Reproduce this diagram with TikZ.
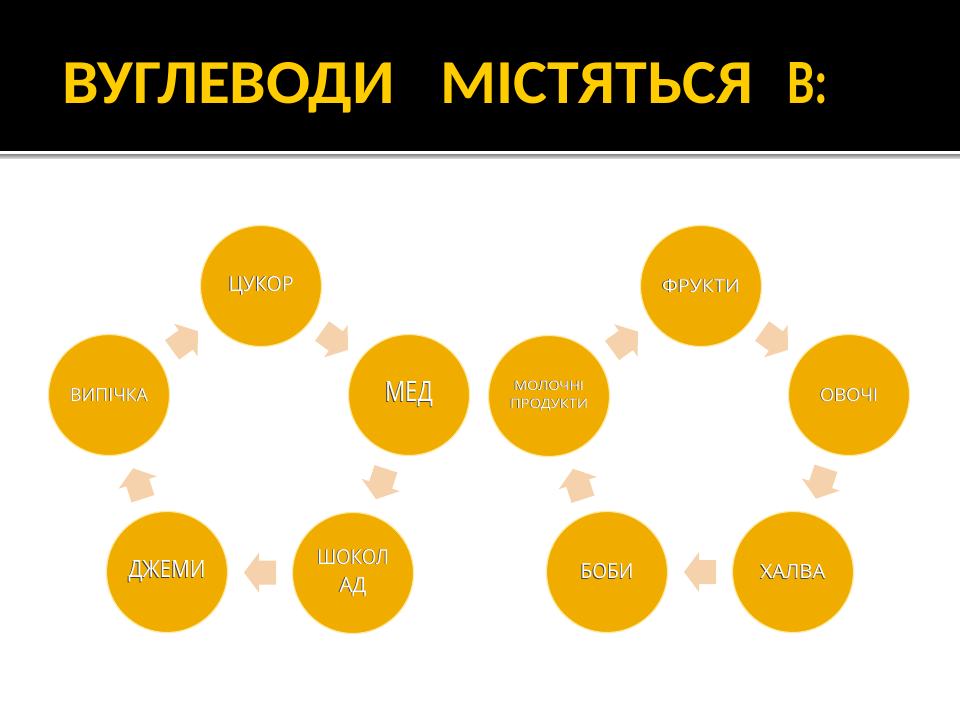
\documentclass[tikz,border=0pt]{standalone}
\usepackage{fontspec}
\usepackage{graphicx}
\usetikzlibrary{calc}
\newfontfamily\titlefont{Carlito}
\newfontfamily\circfont{Open Sans}
\definecolor{titleyellow}{RGB}{255,204,0}
\definecolor{circfill}{RGB}{240,173,0}
\definecolor{circedge}{RGB}{255,232,160}
\definecolor{arrowfill}{RGB}{246,210,172}
\newcommand\shtxt[3]{\resizebox{#1}{#2}{\makebox[0pt][l]{\hspace{-0.4pt}\raisebox{-0.4pt}{\color{black!75}#3}}{\color{white}#3}}}
\begin{document}
\begin{tikzpicture}[x=1pt,y=-1pt,
  item/.style={circle,minimum size=121pt,inner sep=0pt,fill=circfill,draw=circedge,line width=1.2pt,font=\circfont,align=center},
  barrow/.pic={\fill[arrowfill] (-16,-12) -- (1,-12) -- (1,-20) -- (16,0) -- (1,20) -- (1,12) -- (-16,12) -- cycle;}]
\useasboundingbox (0,0) rectangle (960,720);
\fill[white] (0,0) rectangle (960,720);
% header
\fill[black] (0,0) rectangle (960,151);
\shade[top color=gray!95,bottom color=gray!35] (0,154) rectangle (960,158);
\node[anchor=base west,inner sep=0pt,text=titleyellow,font=\titlefont\bfseries] (title) at (62,103)
  {\resizebox{333pt}{41pt}{ВУГЛЕВОДИ}\hspace{45pt}\resizebox{313pt}{41pt}{МІСТЯТЬСЯ}\hspace{34pt}\resizebox{41pt}{41pt}{В:}};
% left cycle
\node[item] (a1) at (261,286) {\shtxt{65pt}{15pt}{ЦУКОР}};
\node[item] (a2) at (409,395) {\shtxt{48pt}{20pt}{МЕД}};
\node[item,font=\circfont\fontsize{10}{28}\selectfont] (a3) at (353,573) {\shtxt{72pt}{15pt}{ШОКОЛ}\\\shtxt{27pt}{15pt}{АД}};
\node[item] (a4) at (167,572) {\shtxt{77pt}{17pt}{ДЖЕМИ}};
\node[item] (a5) at (109,395) {\shtxt{78pt}{13pt}{ВИПІЧКА}};
\pic[rotate=36] at ($(a5)!0.5!(a1)$) {barrow};
\pic[rotate=-36] at ($(a1)!0.5!(a2)$) {barrow};
\pic[rotate=-108] at ($(a2)!0.5!(a3)$) {barrow};
\pic[rotate=180] at ($(a3)!0.5!(a4)$) {barrow};
\pic[rotate=108] at ($(a4)!0.5!(a5)$) {barrow};
% right cycle
\node[item] (b1) at (701,286) {\shtxt{78pt}{13pt}{ФРУКТИ}};
\node[item] (b2) at (849,395) {\shtxt{58pt}{13pt}{ОВОЧІ}};
\node[item] (b3) at (793,572) {\shtxt{65pt}{14pt}{ХАЛВА}};
\node[item] (b4) at (607,572) {\shtxt{53pt}{15pt}{БОБИ}};
\node[item,font=\circfont\fontsize{10}{18}\selectfont] (b5) at (549,396) {\shtxt{70pt}{9.5pt}{МОЛОЧНІ}\\\shtxt{78pt}{9.5pt}{ПРОДУКТИ}};
\pic[rotate=36] at ($(b5)!0.5!(b1)$) {barrow};
\pic[rotate=-36] at ($(b1)!0.5!(b2)$) {barrow};
\pic[rotate=-108] at ($(b2)!0.5!(b3)$) {barrow};
\pic[rotate=180] at ($(b3)!0.5!(b4)$) {barrow};
\pic[rotate=108] at ($(b4)!0.5!(b5)$) {barrow};
\end{tikzpicture}
\end{document}
